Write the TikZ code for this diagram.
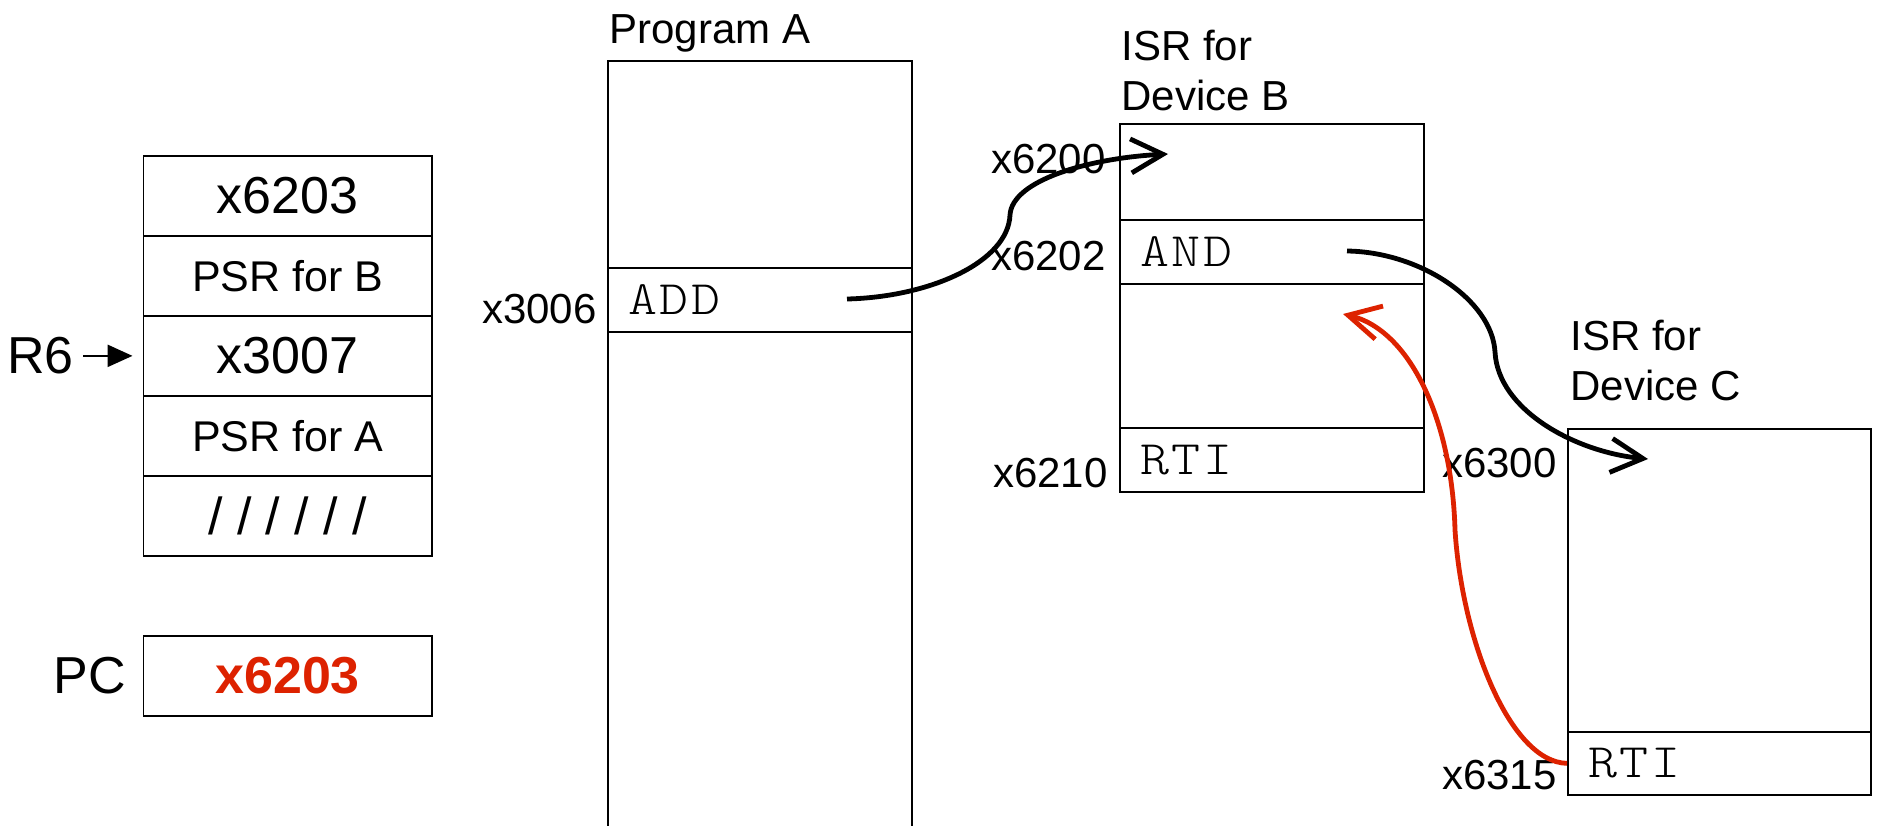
\documentclass[tikz,border=0pt]{standalone}
\usepackage{fontspec}
\setmainfont{Liberation Sans}
\newfontfamily\codefont{lmmonolt10-regular.otf}[FakeStretch=1.15,LetterSpace=5]
\usetikzlibrary{arrows.meta}
\definecolor{rtired}{RGB}{221,34,0}

\begin{document}
\begin{tikzpicture}[x=0.5pt,y=-0.5pt,
 cell/.style={draw,line width=0.85pt,inner sep=0pt,anchor=north west},
 stackcell/.style={cell,minimum width=144.25pt,minimum height=40pt},
 memcell/.style={cell,minimum width=152pt},
 bigtxt/.style={font=\fontsize{26}{30}\selectfont},
 midtxt/.style={font=\fontsize{21.5}{25}\selectfont},
 lbl/.style={font=\fontsize{21}{25}\selectfont,inner sep=0pt},
 code/.style={font=\codefont\fontsize{24}{28}\selectfont,inner sep=0pt,anchor=west,xshift=10.5pt},
 jump/.style={line width=2.4pt,-{Straight Barb[length=16pt,width=17pt]}}]
 \path[use as bounding box,clip] (0,0) rectangle (1877,825);
 % stack and PC
 \node[stackcell,bigtxt] (s1) at (142.5,155) {x6203};
 \node[stackcell,midtxt] (s2) at (142.5,235) {PSR for B};
 \node[stackcell,bigtxt] (s3) at (142.5,315) {x3007};
 \node[stackcell,midtxt] (s4) at (142.5,395) {PSR for A};
 \node[stackcell,bigtxt] (s5) at (142.5,475) {/ / / / / /};
 \node[stackcell,bigtxt,text=rtired] (pc) at (142.5,635) {\bfseries x6203};
 \node[bigtxt,inner sep=0pt,anchor=east,xshift=-34.25pt] (r6) at (s3.west) {R6};
 \draw[line width=1.25pt,-{Triangle[length=12.5pt,width=11pt]}] ([xshift=4.5pt]r6.east) -- ([xshift=-5pt]s3.west);
 \node[bigtxt,inner sep=8.25pt,anchor=east] (pclbl) at (pc.west) {PC};
 % program A
 \node[lbl,anchor=base west] (progtitle) at (609,43) {Program A};
 \node[memcell,minimum height=103.5pt] (pa1) at (607,60) {};
 \node[memcell,minimum height=32pt] (pa2) at (607,267) {};
 \node[memcell,minimum height=260pt] (pa3) at (607,331) {};
 \node[code] (addtxt) at (pa2.west) {ADD};
 \node[lbl,anchor=base east] (a3006) at (597,323) {x3006};
 % ISR for device B
 \node[lbl,anchor=south west,align=left] (isrbtitle) at (1121,111) {ISR for\\Device B};
 \node[memcell,minimum height=48pt] (isb1) at (1119,123) {};
 \node[memcell,minimum height=32pt] (isb2) at (1119,219) {};
 \node[memcell,minimum height=72pt] (isb3) at (1119,283) {};
 \node[memcell,minimum height=32pt] (isb4) at (1119,427) {};
 \node[code] (andtxt) at (isb2.west) {AND};
 \node[code] (rtib) at (isb4.west) {RTI};
 \node[lbl,anchor=base east] (a6200) at (1106,173) {x6200};
 \node[lbl,anchor=base east] (a6202) at (1106,270) {x6202};
 \node[lbl,anchor=base east] (a6210) at (1108,487) {x6210};
 % ISR for device C
 \node[lbl,anchor=south west,align=left] (isrctitle) at (1570,401) {ISR for\\Device C};
 \node[memcell,minimum width=151.5pt,minimum height=151.5pt] (isc1) at (1567,428) {};
 \node[memcell,minimum width=151.5pt,minimum height=31.5pt] (isc2) at (1567,731) {};
 \node[code] (rtic) at (isc2.west) {RTI};
 \node[lbl,anchor=base east] (a6300) at (1557,477) {x6300};
 \node[lbl,anchor=base east] (a6315) at (1557,789) {x6315};
 % jumps
 \coordinate (addout) at (847,299);
 \coordinate (bentry) at (1168,154);
 \coordinate (andout) at (1347,251);
 \coordinate (centry) at (1648,459);
 \coordinate (bback) at (1343,314);
 \draw[jump] (addout) .. controls (930,297) and (1008,262) .. (1010,215)
   .. controls (1012,180) and (1090,158) .. (bentry);
 \draw[jump] (andout) .. controls (1420,252) and (1492,300) .. (1495,352)
   .. controls (1498,410) and (1575,452) .. (centry);
 \draw[jump,rtired] (isc2.west) .. controls (1510,762) and (1462,640) .. (1455,530)
   .. controls (1452,420) and (1410,330) .. (bback);
\end{tikzpicture}
\end{document}
